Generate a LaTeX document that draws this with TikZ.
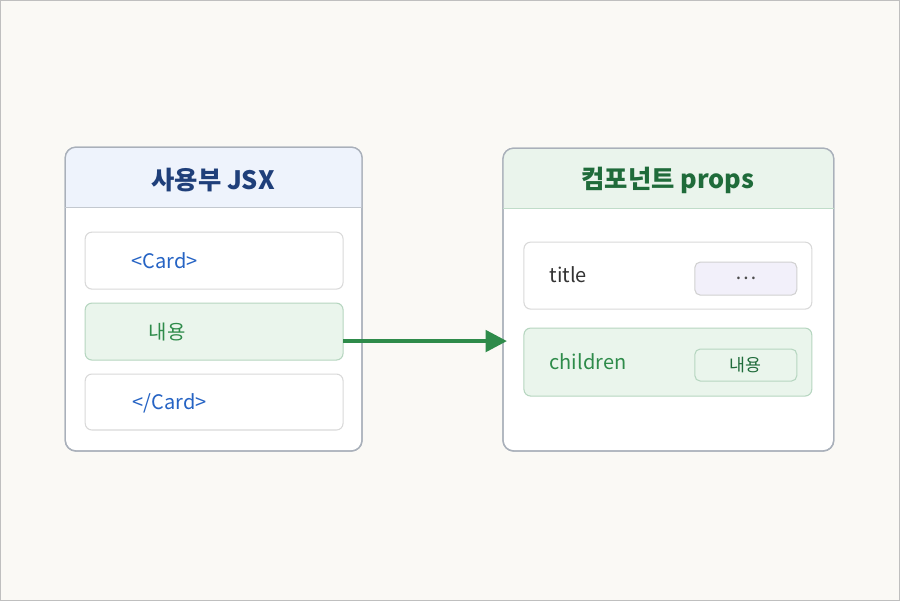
\documentclass[tikz,border=0pt]{standalone}
\usepackage{fontspec}
\setmainfont{Noto Sans CJK KR}
\usetikzlibrary{arrows.meta}
\definecolor{bg}{HTML}{FAF9F5}
\definecolor{frame}{HTML}{A9B0BA}
\definecolor{hblue}{HTML}{EEF3FC}
\definecolor{tblue}{HTML}{1F3F7A}
\definecolor{cblue}{HTML}{2563C4}
\definecolor{hgreen}{HTML}{EAF4EC}
\definecolor{tgreen}{HTML}{1F6B3A}
\definecolor{cgreen}{HTML}{2E8B4A}
\definecolor{lgreen}{HTML}{EAF5EC}
\definecolor{lav}{HTML}{F2F0FA}
\tikzset{
  x=0.75pt,y=-0.75pt,
  panel/.style={draw=frame,line width=1pt,fill=white,rounded corners=8pt},
  item/.style={draw=black!15,line width=0.8pt,fill=white,rounded corners=5pt},
  gitem/.style={draw=cgreen!35,line width=0.8pt,fill=lgreen,rounded corners=5pt},
  pill/.style={draw=black!18,line width=0.8pt,rounded corners=4pt},
  lbl/.style={font=\fontsize{15}{18}\selectfont\mdseries,anchor=west},
  ttl/.style={font=\fontsize{19}{22}\selectfont\bfseries},
}
\begin{document}
\begin{tikzpicture}
\fill[bg,draw=black!25] (0,0) rectangle (900,600);
\useasboundingbox (0,0) rectangle (900,600);
% left panel
\draw[panel] (65,147) rectangle (362,451);
\begin{scope}
\clip[rounded corners=8pt] (65,147) rectangle (362,451);
\fill[hblue] (65,147) rectangle (362,207);
\end{scope}
\draw[frame,line width=1pt,rounded corners=8pt] (65,147) rectangle (362,451);
\draw[frame!70,line width=0.8pt] (65,207) -- (362,207);
\node[ttl,text=tblue] (lt) at (213,180) {사용부 JSX};
\draw[item] (85,232) rectangle (343,289);
\node[lbl,text=cblue] (c1) at (127,261) {<Card>};
\draw[gitem] (85,303) rectangle (343,360);
\coordinate (lout) at (343,341);
\node[lbl,text=cgreen] (c2) at (144,332) {내용};
\draw[item] (85,374) rectangle (343,430);
\node[lbl,text=cblue] (c3) at (128,403) {</Card>};
% right panel
\draw[panel] (503,148) rectangle (834,451);
\begin{scope}
\clip[rounded corners=8pt] (503,148) rectangle (834,451);
\fill[hgreen] (503,148) rectangle (834,208);
\end{scope}
\draw[frame,line width=1pt,rounded corners=8pt] (503,148) rectangle (834,451);
\draw[cgreen!30,line width=0.8pt] (503,208) -- (834,208);
\node[ttl,text=tgreen] (rt) at (668,180) {컴포넌트 props};
\draw[item] (524,242) rectangle (812,309);
\node[lbl,text=black!80] (t1) at (545,275) {title};
\draw[pill,fill=lav] (695,262) rectangle (797,295);
\node[font=\fontsize{15}{18}\selectfont,text=black!70] (p1) at (746,278) {…};
\draw[gitem] (524,328) rectangle (812,396);
\coordinate (rin) at (507,341);
\node[lbl,text=cgreen] (t2) at (545,362) {children};
\draw[pill,fill=lgreen,draw=cgreen!35] (695,349) rectangle (797,381);
\node[font=\fontsize{13}{16}\selectfont,text=tgreen] (p2) at (746,365) {내용};
% arrow
\draw[cgreen,line width=3pt,-{Triangle[length=16pt,width=16pt]}] (lout) -- (rin);
\end{tikzpicture}
\end{document}
